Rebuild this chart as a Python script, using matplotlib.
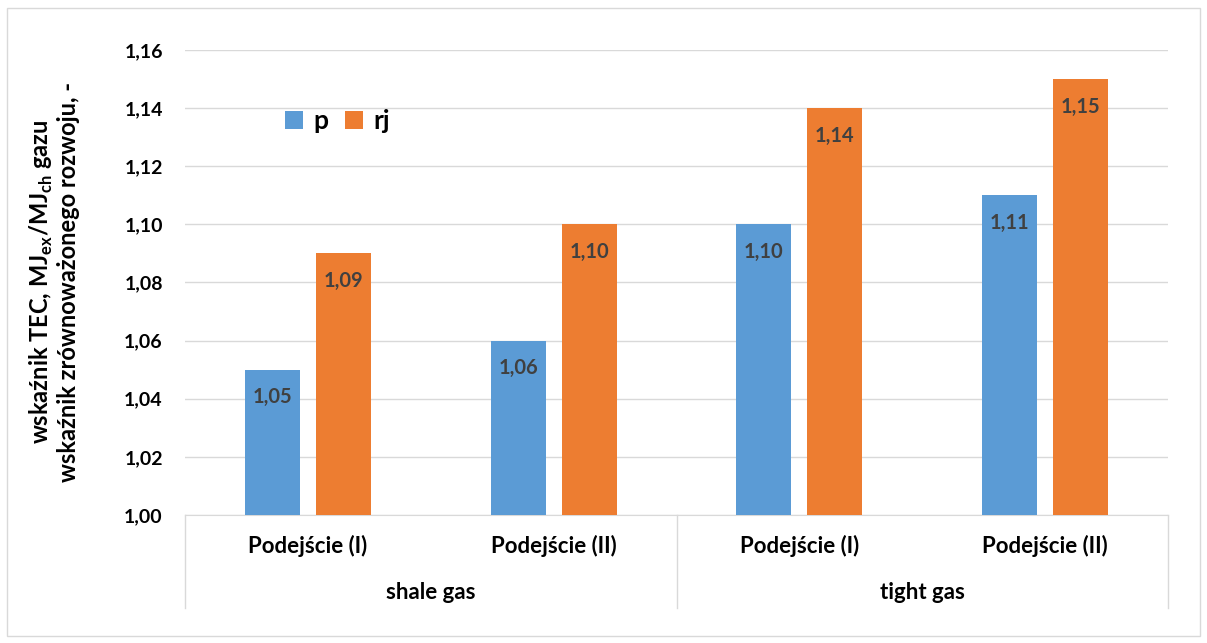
import matplotlib
matplotlib.use("Agg")
import matplotlib.pyplot as plt
from matplotlib.patches import Rectangle
import numpy as np

plt.rcParams['font.family'] = ['Lato', 'DejaVu Sans']

categories = ["Podejście (I)", "Podejście (II)", "Podejście (I)", "Podejście (II)"]
groups = ["shale gas", "tight gas"]
p_vals = [1.05, 1.06, 1.10, 1.11]
rj_vals = [1.09, 1.10, 1.14, 1.15]
series_names = ["p", "rj"]
colors = ["#5b9bd5", "#ed7d31"]
yticks = [1.00, 1.02, 1.04, 1.06, 1.08, 1.10, 1.12, 1.14, 1.16]

W, H = 1207, 643
fig = plt.figure(figsize=(W / 100, H / 100), dpi=100)
ax = fig.add_axes([185 / W, 1 - 515 / H, (1168 - 185) / W, (515 - 50) / H])

x = np.arange(len(categories))
bw = 0.224
gap = 0.065
off = (bw + gap) / 2
b1 = ax.bar(x - off, np.array(p_vals) - 1.0, bw, bottom=1.0, color=colors[0], label=series_names[0], zorder=3)
b2 = ax.bar(x + off, np.array(rj_vals) - 1.0, bw, bottom=1.0, color=colors[1], label=series_names[1], zorder=3)

for bars, vals in ((b1, p_vals), (b2, rj_vals)):
    for r, v in zip(bars, vals):
        ax.text(r.get_x() + r.get_width() / 2, v - 0.0095, f"{v:.2f}".replace(".", ","),
                ha="center", va="center", fontsize=14.5, fontweight="bold", color="#404040", zorder=4)

ax.set_xlim(-0.5, len(categories) - 0.5)
ax.set_ylim(1.00, 1.16)
ax.set_yticks(yticks)
ax.set_yticklabels([f"{t:.2f}".replace(".", ",") for t in yticks], fontsize=14, fontweight="bold", color="black")
ax.tick_params(axis="y", length=0, pad=16)
ax.set_xticks([])
ax.grid(axis="y", color="#d9d9d9", linewidth=1, zorder=0)
for s in ["top", "right", "left"]:
    ax.spines[s].set_visible(False)
ax.spines["bottom"].set_color("#d9d9d9")

# category labels and separators
for i, c in enumerate(categories):
    ax.text(i, -0.067, c, transform=ax.get_xaxis_transform(), ha="center", va="center",
            fontsize=16, fontweight="bold")
for gi, g in enumerate(groups):
    ax.text(gi * 2 + 0.5, -0.167, g, transform=ax.get_xaxis_transform(), ha="center", va="center",
            fontsize=16, fontweight="bold")
for xs in [-0.5, 1.5, 3.5]:
    ax.plot([xs, xs], [0, -0.2], transform=ax.get_xaxis_transform(), color="#d9d9d9",
            linewidth=1, clip_on=False)

fig.text(54 / W, 1 - 282 / H,
         "wskaźnik TEC, MJ$_{\\mathregular{ex}}$/MJ$_{\\mathregular{ch}}$ gazu\nwskaźnik zrównoważonego rozwoju, -",
         rotation=90, ha="center", va="center", multialignment="center",
         fontsize=17, fontweight="bold", linespacing=1.12)

leg = ax.legend(loc="center left", bbox_to_anchor=((285 - 185) / 983, (515 - 121) / 465), ncol=2, frameon=False,
                prop={"size": 19, "weight": "bold"}, handlelength=0.68, handleheight=0.68,
                columnspacing=0.65, handletextpad=0.38, borderpad=0, borderaxespad=0)

fig.patches.append(Rectangle((7 / W, 7 / H), (1200 - 7) / W, (635 - 7) / H, transform=fig.transFigure,
                             fill=False, edgecolor="#d9d9d9", linewidth=1))

fig.savefig("out.png", dpi=100)
